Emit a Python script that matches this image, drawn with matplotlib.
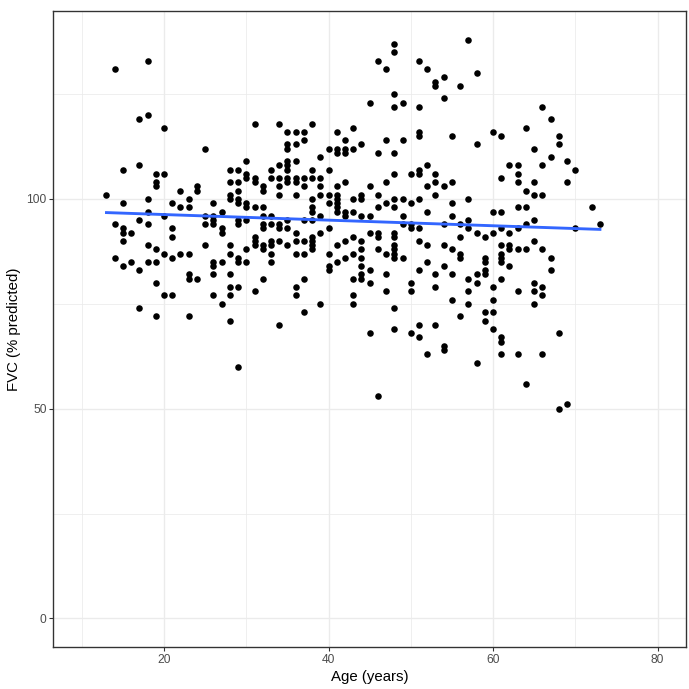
import numpy as np
import matplotlib.pyplot as plt
from matplotlib.ticker import MultipleLocator

plt.rcParams['font.family'] = ['Liberation Sans', 'DejaVu Sans']

# FVC (% predicted) readings grouped by age (years)
fvc_by_age = {
    13: [101],
    14: [131, 94, 86],
    15: [107, 99, 93, 92, 90, 84],
    16: [92, 85],
    17: [119, 108, 95, 83, 74],
    18: [133, 120, 100, 97, 94, 89, 85],
    19: [106, 104, 103, 88, 85, 80, 72],
    20: [117, 106, 96, 87, 77],
    21: [99, 93, 91, 86, 77],
    22: [102, 98, 87],
    23: [100, 98, 87, 82, 81, 72],
    24: [103, 102, 81],
    25: [112, 96, 94, 89],
    26: [99, 96, 95, 94, 85, 84, 82, 77],
    27: [97, 93, 92, 85, 75],
    28: [107, 104, 101, 100, 89, 87, 82, 79, 77, 71],
    29: [107, 104, 102, 100, 99, 95, 94, 86, 85, 79, 60],
    30: [109, 106, 105, 99, 98, 95, 88, 85],
    31: [118, 105, 104, 98, 91, 90, 89, 78],
    32: [103, 102, 98, 96, 94, 93, 89, 88, 81],
    33: [107, 105, 96, 94, 90, 89, 87, 85],
    34: [118, 108, 105, 103, 101, 94, 93, 90, 70],
    35: [116, 113, 112, 109, 108, 107, 105, 104, 95, 93, 89],
    36: [116, 113, 109, 105, 104, 101, 92, 90, 87, 79, 77],
    37: [116, 114, 105, 103, 95, 90, 87, 81, 73],
    38: [118, 107, 105, 100, 98, 97, 95, 91, 90, 89, 88],
    39: [110, 105, 103, 101, 96, 92, 75],
    40: [112, 107, 101, 99, 93, 87, 84, 83],
    41: [116, 112, 111, 103, 101, 100, 99, 98, 97, 89, 85],
    42: [114, 112, 111, 104, 97, 96, 90, 86],
    43: [117, 112, 100, 97, 91, 87, 81, 77, 75],
    44: [113, 101, 100, 96, 90, 88, 86, 84, 82, 81],
    45: [123, 103, 96, 92, 83, 80, 68],
    46: [133, 111, 101, 98, 92, 91, 88, 53],
    47: [131, 114, 104, 99, 87, 82, 78],
    48: [137, 135, 125, 122, 111, 106, 100, 98, 92, 91, 89, 88, 87, 86, 74, 69],
    49: [123, 114, 100, 96, 94, 86],
    50: [106, 99, 94, 93, 80, 78, 68],
    51: [133, 122, 116, 115, 107, 106, 100, 93, 90, 83, 70, 67],
    52: [131, 108, 103, 97, 89, 85, 63],
    53: [128, 127, 106, 104, 101, 82, 79, 70],
    54: [129, 124, 103, 94, 89, 84, 65, 64],
    55: [115, 104, 99, 96, 88, 82, 76],
    56: [127, 94, 91, 87, 86, 72],
    57: [138, 100, 95, 93, 81, 78, 75],
    58: [130, 113, 92, 82, 80, 61],
    59: [91, 86, 85, 83, 82, 73, 71],
    60: [116, 97, 92, 79, 76, 73, 69],
    61: [115, 105, 97, 93, 89, 87, 86, 85, 81, 67, 66, 63],
    62: [108, 92, 89, 88, 84],
    63: [108, 106, 104, 98, 93, 88, 78, 63],
    64: [117, 102, 98, 94, 88, 56],
    65: [112, 104, 101, 95, 90, 80, 78, 75],
    66: [122, 108, 101, 88, 79, 77, 63],
    67: [119, 110, 86, 83],
    68: [115, 113, 68, 50],
    69: [109, 104, 51],
    70: [107, 93],
    72: [98],
    73: [94],
}

age = np.array([a for a, vals in fvc_by_age.items() for _ in vals], dtype=float)
fvc = np.array([v for vals in fvc_by_age.values() for v in vals], dtype=float)

# linear fit like geom_smooth(method = "lm")
slope, intercept = np.polyfit(age, fvc, 1)
xfit = np.linspace(age.min(), age.max(), 50)
yfit = intercept + slope * xfit

W = 689
fig = plt.figure(figsize=(7, 7), dpi=W / 7)
ax = fig.add_axes([53 / W, (W - 647.3) / W, (686.3 - 53) / W, (647.3 - 10.7) / W])

ax.scatter(age, fvc, s=23, color="black", linewidths=0, zorder=3)
ax.plot(xfit, yfit, color="#3366FF", linewidth=2.1, zorder=4)

ax.set_xlim(6.5, 83.5)
ax.set_ylim(-6.9, 144.9)
ax.xaxis.set_major_locator(MultipleLocator(20))
ax.xaxis.set_minor_locator(MultipleLocator(10))
ax.yaxis.set_major_locator(MultipleLocator(50))
ax.yaxis.set_minor_locator(MultipleLocator(25))

ax.grid(which="major", color="#EBEBEB", linewidth=1.0, zorder=0)
ax.grid(which="minor", color="#EBEBEB", linewidth=0.55, zorder=0)
ax.set_axisbelow(True)
for sp in ax.spines.values():
    sp.set_color("#333333")
    sp.set_linewidth(1.0)

ax.tick_params(which="major", length=2.75, width=0.8, color="#333333",
               labelsize=8.8, labelcolor="#4D4D4D", pad=2)
ax.tick_params(which="minor", length=0)

ax.set_xlabel("Age (years)", fontsize=11, labelpad=3)
ax.set_ylabel("FVC (% predicted)", fontsize=11, labelpad=4)

fig.savefig("out.png", dpi=W / 7)
